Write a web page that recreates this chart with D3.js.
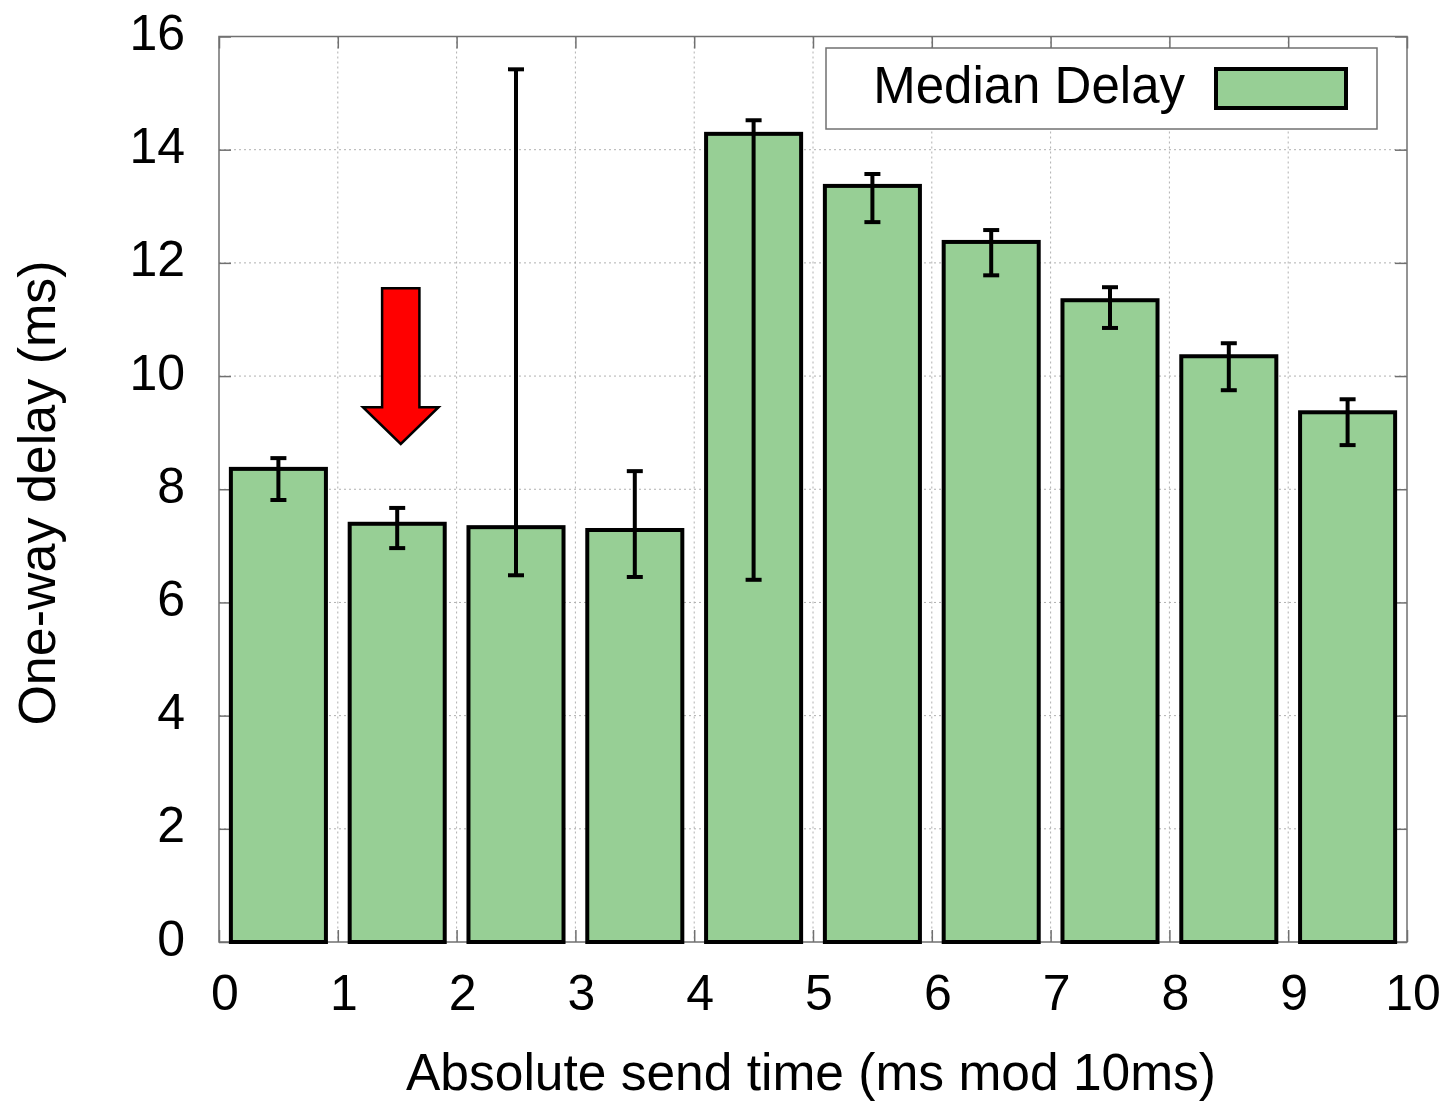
<!DOCTYPE html>
<html><head><meta charset="utf-8">
<script src="https://cdn.jsdelivr.net/npm/d3@7"></script>
<style>body{margin:0;background:#fff}svg{display:block}text{font-family:"Liberation Sans",Arial,sans-serif}</style>
</head><body><svg id="c" width="1445" height="1101"></svg>
<script>
const categories = [0,1,2,3,4,5,6,7,8,9];
const medianDelay = [8.36,7.39,7.33,7.28,14.28,13.36,12.37,11.34,10.35,9.36];
const errLow  = [7.81,6.96,6.48,6.45,6.40,12.72,11.78,10.85,9.75,8.78];
const errHigh = [8.55,7.67,15.42,8.32,14.52,13.57,12.58,11.57,10.58,9.59];
const xTicks = [0,1,2,3,4,5,6,7,8,9,10];
const yTicks = [0,2,4,6,8,10,12,14,16];
const arrowAnno = {x:1.53, top:11.55, neck:9.45, tip:8.8, shaftHalf:0.157, headHalf:0.318};

const svg = d3.select("#c");
const L=219, R=1407, T=36.5, B=942;
const x = d3.scaleLinear().domain([0,10]).range([L,R]);
const y = d3.scaleLinear().domain([0,16]).range([B,T]);
const grid = "#b0b0b0", frame="#707070";

// grid
svg.append("g").selectAll("line").data(yTicks.slice(1,-1)).join("line")
  .attr("x1",L).attr("x2",R).attr("y1",d=>y(d)).attr("y2",d=>y(d))
  .attr("stroke",grid).attr("stroke-width",1).attr("stroke-dasharray","2,3");
svg.append("g").selectAll("line").data(xTicks.slice(1,-1)).join("line")
  .attr("y1",T).attr("y2",B).attr("x1",d=>x(d)).attr("x2",d=>x(d))
  .attr("stroke",grid).attr("stroke-width",1).attr("stroke-dasharray","2,3");

// axes with inward ticks
const fs = 50;
const yAxis = d3.axisLeft(y).tickValues(yTicks).tickSize(-12).tickPadding(34).tickFormat(d3.format("d"));
const gy = svg.append("g").attr("transform",`translate(${L},0)`).call(yAxis);
const gy2 = svg.append("g").attr("transform",`translate(${R},0)`).call(d3.axisRight(y).tickValues(yTicks).tickSize(-12).tickFormat(""));
const xAxis = d3.axisBottom(x).tickValues(xTicks).tickSize(-12).tickPadding(32).tickFormat(d3.format("d"));
const gx = svg.append("g").attr("transform",`translate(0,${B})`).call(xAxis);
const gx2 = svg.append("g").attr("transform",`translate(0,${T})`).call(d3.axisTop(x).tickValues(xTicks).tickSize(-12).tickFormat(""));
[gy,gy2,gx,gx2].forEach(g=>{
  g.select(".domain").remove();
  g.selectAll(".tick line").attr("stroke",frame).attr("stroke-width",1.5);
  g.selectAll("text").attr("font-size",fs).attr("fill","#000").attr("font-family","Liberation Sans, Arial, sans-serif");
});
gy.selectAll("text").attr("dy","0.26em");
gx.selectAll("text").attr("dy","0.71em").attr("x",5.5);

// frame
svg.append("rect").attr("x",L).attr("y",T).attr("width",R-L).attr("height",B-T)
  .attr("fill","none").attr("stroke",frame).attr("stroke-width",1.5);

// bars
const bw = 0.8;
svg.append("g").selectAll("rect").data(categories).join("rect")
  .attr("x",d=>x(d+0.5-bw/2)).attr("width",d=>x(bw)-x(0))
  .attr("y",(d,i)=>y(medianDelay[i])).attr("height",(d,i)=>y(0)-y(medianDelay[i]))
  .attr("fill","#97cf95").attr("stroke","#000").attr("stroke-width",4);

// error bars
const eg = svg.append("g").attr("stroke","#000").attr("stroke-width",4);
categories.forEach((c,i)=>{
  const cx = x(c+0.5);
  eg.append("line").attr("x1",cx).attr("x2",cx).attr("y1",y(errLow[i])).attr("y2",y(errHigh[i]));
  eg.append("line").attr("x1",cx-8).attr("x2",cx+8).attr("y1",y(errLow[i])).attr("y2",y(errLow[i]));
  eg.append("line").attr("x1",cx-8).attr("x2",cx+8).attr("y1",y(errHigh[i])).attr("y2",y(errHigh[i]));
});

// arrow
const a = arrowAnno;
const pts = [
  [a.x-a.shaftHalf,a.top],[a.x+a.shaftHalf,a.top],[a.x+a.shaftHalf,a.neck],[a.x+a.headHalf,a.neck],
  [a.x,a.tip],[a.x-a.headHalf,a.neck],[a.x-a.shaftHalf,a.neck]
].map(p=>[x(p[0]),y(p[1])]);
svg.append("path").attr("d",d3.line()(pts)+"Z").attr("fill","#ff0000").attr("stroke","#000").attr("stroke-width",2.5).attr("stroke-linejoin","miter");

// legend
svg.append("rect").attr("x",826).attr("y",48).attr("width",551).attr("height",81)
  .attr("fill","#fff").attr("stroke",frame).attr("stroke-width",1.5);
svg.append("text").attr("x",1185).attr("y",103).attr("text-anchor","end").attr("font-size",51).text("Median Delay");
svg.append("rect").attr("x",1216).attr("y",69).attr("width",130).attr("height",39)
  .attr("fill","#97cf95").attr("stroke","#000").attr("stroke-width",4);

// axis labels
svg.append("text").attr("transform","translate(55,493) rotate(-90)").attr("text-anchor","middle")
  .attr("font-size",52).text("One-way delay (ms)");
svg.append("text").attr("x",811).attr("y",1090).attr("text-anchor","middle")
  .attr("font-size",51.5).text("Absolute send time (ms mod 10ms)");
</script></body></html>
